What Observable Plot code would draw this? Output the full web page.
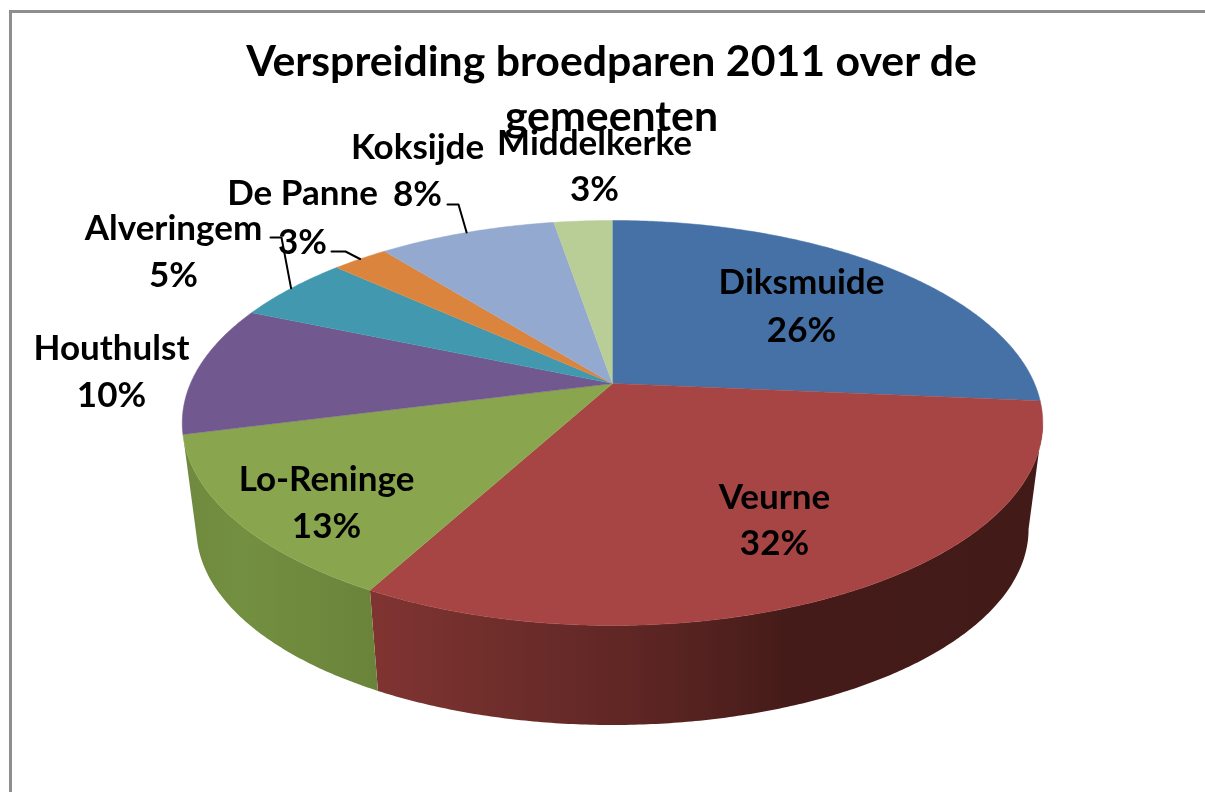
<!DOCTYPE html>
<html><head><meta charset="utf-8">
<script src="https://cdn.jsdelivr.net/npm/d3@7"></script>
<script src="https://cdn.jsdelivr.net/npm/@observablehq/plot@0.6"></script>
<style>html,body{margin:0;padding:0;background:#fff;overflow:hidden}svg{display:block}</style>
</head><body><div id="chart"></div>
<script>
const gemeenten = ["Diksmuide","Veurne","Lo-Reninge","Houthulst","Alveringem","De Panne","Koksijde","Middelkerke"];
const aandeel = [26.4,31.5,13.1,10.4,5.35,2.55,8.05,2.65];
const kleuren = ["#4571a6","#a64543","#89a54e","#71588f","#4198af","#db843d","#93a9cf","#b9cd96"];
const titel = ["Verspreiding broedparen 2011 over de","gemeenten"];
const labelCentre = [[801,293,341],[774,508,554],[326,490,537],[111,359,406],[173,239,286],[302,204,253],[417,158,205],[594,154,200]];
const leaderElbow = {Alveringem:[[270,237],[281,237]],"De Panne":[[331,251],[345,251]],Koksijde:[[447,204],[458,204]]};

// perspective disc of the pie
const cx=612, cy=383, R=422, S=194.8, k=0.195;
const rim=(deg,scale=1,dy=0)=>{const t=deg*Math.PI/180,u=Math.sin(t),v=-Math.cos(t),w=1-k*v;
  return [cx+scale*R*u/w, cy+dy+scale*S*v/w];};
const scaleB=0.967, dyB=107.5, tangentR=101.2, tangentL=258.8;
let acc=0;
const slices=gemeenten.map((name,i)=>{const a0=acc*3.6;acc+=aandeel[i];return {name,a0,a1:acc*3.6,share:aandeel[i]};});
const arc=(a0,a1,sc,dy)=>{const n=Math.max(2,Math.ceil((a1-a0)*2));return d3.range(n+1).map(j=>rim(a0+(a1-a0)*j/n,sc,dy));};
const topPts=slices.flatMap(s=>[[cx,cy],...arc(s.a0,s.a1)].map(([x,y])=>({x,y,name:s.name})));
const side=(s)=>{const a0=Math.max(s.a0,tangentR),a1=Math.min(s.a1,tangentL);
  return [...arc(a0,a1),...arc(a0,a1,scaleB,dyB).reverse()].map(([x,y])=>({x,y}));};
const sideV=side(slices[1]), sideL=side(slices[2]);
const labels=slices.flatMap((s,i)=>{const [x,y1,y2]=labelCentre[i];
  return [{x,y:y1,t:s.name},{x,y:y2,t:Math.round(s.share)+"%"}];});
const leaders=slices.filter(s=>leaderElbow[s.name]).flatMap(s=>[...leaderElbow[s.name],rim((s.a0+s.a1)/2)].map(([x,y])=>({x,y,name:s.name})));
const titleRows=titel.map((t,i)=>({t,x:611,y:[75,130][i]}));

const defs=()=>{const d=d3.create("svg:defs");
  const g=(id,x1,x2,stops)=>{const l=d.append("linearGradient").attr("id",id).attr("gradientUnits","userSpaceOnUse").attr("x1",x1).attr("x2",x2).attr("y1",0).attr("y2",0);
    stops.forEach(([o,c])=>l.append("stop").attr("offset",o).attr("stop-color",c));};
  g("gV",372,1040,[[0,"#803432"],[0.19,"#6f2e2b"],[0.34,"#632826"],[0.49,"#552220"],[0.626,"#441b18"],[1,"#421a18"]]);
  g("gL",183,380,[[0,"#6f8a3e"],[0.3,"#738f40"],[1,"#6a833a"]]);
  return d.node();};

const font="Lato, 'Open Sans', sans-serif";
const plot=Plot.plot({width:1205,height:792,margin:0,
  x:{domain:[0,1205],range:[0,1205],axis:null},
  y:{domain:[0,792],range:[0,792],axis:null},
  color:{domain:gemeenten,range:kleuren},
  style:{background:"#fff",filter:"blur(0.6px)"},
  marks:[defs,
    Plot.ruleY([11],{x1:9,x2:1205,stroke:"#8e8e8e",strokeWidth:3}),
    Plot.ruleX([10],{y1:10,y2:792,stroke:"#8e8e8e",strokeWidth:3}),
    Plot.line(sideV,{x:"x",y:"y",fill:"url(#gV)",stroke:"none"}),
    Plot.line(sideL,{x:"x",y:"y",fill:"url(#gL)",stroke:"none"}),
    Plot.line(topPts,{x:"x",y:"y",z:"name",fill:"name",stroke:"name",strokeWidth:0.5}),
    Plot.line(leaders,{x:"x",y:"y",z:"name",stroke:"#000",strokeWidth:2,curve:"linear"}),
    Plot.text(titleRows,{x:"x",y:"y",text:"t",lineAnchor:"bottom",textAnchor:"middle",fontFamily:font,fontWeight:700,fontSize:42.8,fill:"#000"}),
    Plot.text(labels,{x:"x",y:"y",text:"t",lineAnchor:"bottom",textAnchor:"middle",fontFamily:font,fontWeight:700,fontSize:35,fill:"#000"})
  ]});
document.getElementById("chart").append(plot);
</script></body></html>
